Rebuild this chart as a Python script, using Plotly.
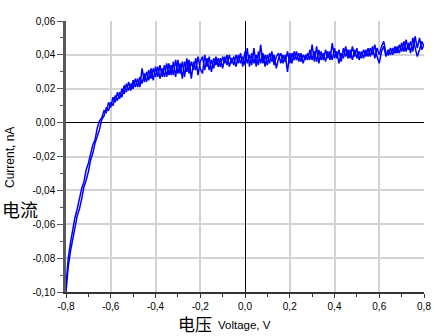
import plotly.graph_objects as go

voltage = [
    -0.80, -0.79, -0.78, -0.77, -0.76, -0.75, -0.74, -0.73, -0.72, -0.71,
    -0.70, -0.69, -0.68, -0.67, -0.66, -0.65, -0.64, -0.63, -0.62, -0.61,
    -0.60, -0.59, -0.58, -0.57, -0.56, -0.55, -0.54, -0.53, -0.52, -0.51,
    -0.50, -0.49, -0.48, -0.47, -0.46, -0.45, -0.44, -0.43, -0.42, -0.41,
    -0.40, -0.39, -0.38, -0.37, -0.36, -0.35, -0.34, -0.33, -0.32, -0.31,
    -0.30, -0.29, -0.28, -0.27, -0.26, -0.25, -0.24, -0.23, -0.22, -0.21,
    -0.20, -0.19, -0.18, -0.17, -0.16, -0.15, -0.14, -0.13, -0.12, -0.11,
    -0.10, -0.09, -0.08, -0.07, -0.06, -0.05, -0.04, -0.03, -0.02, -0.01,
    0.00, 0.01, 0.02, 0.03, 0.04, 0.05, 0.06, 0.07, 0.08, 0.09,
    0.10, 0.11, 0.12, 0.13, 0.14, 0.15, 0.16, 0.17, 0.18, 0.19,
    0.20, 0.21, 0.22, 0.23, 0.24, 0.25, 0.26, 0.27, 0.28, 0.29,
    0.30, 0.31, 0.32, 0.33, 0.34, 0.35, 0.36, 0.37, 0.38, 0.39,
    0.40, 0.41, 0.42, 0.43, 0.44, 0.45, 0.46, 0.47, 0.48, 0.49,
    0.50, 0.51, 0.52, 0.53, 0.54, 0.55, 0.56, 0.57, 0.58, 0.59,
    0.60, 0.61, 0.62, 0.63, 0.64, 0.65, 0.66, 0.67, 0.68, 0.69,
    0.70, 0.71, 0.72, 0.73, 0.74, 0.75, 0.76, 0.77, 0.78, 0.79,
    0.80,
]

current_forward = [
    -0.100, -0.085, -0.076, -0.068, -0.062, -0.055, -0.051, -0.045, -0.038, -0.034,
    -0.029, -0.022, -0.018, -0.012, -0.008, -0.004, 0.002, 0.004, 0.009, 0.007,
    0.012, 0.010, 0.016, 0.013, 0.018, 0.015, 0.022, 0.018, 0.024, 0.019,
    0.025, 0.021, 0.026, 0.021, 0.032, 0.024, 0.030, 0.025, 0.032, 0.025,
    0.033, 0.027, 0.034, 0.027, 0.034, 0.027, 0.035, 0.028, 0.036, 0.027,
    0.037, 0.029, 0.036, 0.027, 0.038, 0.029, 0.036, 0.031, 0.038, 0.028,
    0.036, 0.039, 0.031, 0.038, 0.031, 0.037, 0.032, 0.039, 0.033, 0.038,
    0.032, 0.039, 0.034, 0.040, 0.035, 0.039, 0.033, 0.040, 0.035, 0.039,
    0.034, 0.044, 0.033, 0.041, 0.035, 0.040, 0.034, 0.046, 0.035, 0.040,
    0.034, 0.041, 0.036, 0.040, 0.032, 0.038, 0.041, 0.035, 0.040, 0.030,
    0.041, 0.035, 0.042, 0.037, 0.041, 0.036, 0.040, 0.037, 0.041, 0.037,
    0.046, 0.036, 0.045, 0.035, 0.042, 0.037, 0.043, 0.038, 0.042, 0.037,
    0.044, 0.038, 0.043, 0.036, 0.044, 0.039, 0.043, 0.038, 0.045, 0.039,
    0.044, 0.037, 0.042, 0.038, 0.043, 0.039, 0.044, 0.040, 0.046, 0.039,
    0.035, 0.042, 0.045, 0.039, 0.043, 0.040, 0.044, 0.041, 0.045, 0.041,
    0.047, 0.042, 0.049, 0.043, 0.048, 0.042, 0.051, 0.044, 0.050, 0.043,
    0.046,
]

current_reverse = [
    -0.096, -0.080, -0.071, -0.063, -0.056, -0.051, -0.044, -0.039, -0.035, -0.028,
    -0.024, -0.019, -0.013, -0.010, -0.003, 0.001, 0.003, 0.007, 0.006, 0.012,
    0.009, 0.015, 0.012, 0.018, 0.014, 0.020, 0.017, 0.023, 0.019, 0.023,
    0.020, 0.026, 0.021, 0.027, 0.023, 0.029, 0.024, 0.031, 0.026, 0.032,
    0.027, 0.033, 0.026, 0.032, 0.027, 0.035, 0.028, 0.034, 0.028, 0.037,
    0.029, 0.035, 0.026, 0.036, 0.030, 0.037, 0.026, 0.036, 0.031, 0.039,
    0.032, 0.029, 0.040, 0.033, 0.039, 0.030, 0.038, 0.034, 0.038, 0.033,
    0.039, 0.035, 0.040, 0.033, 0.038, 0.034, 0.040, 0.035, 0.041, 0.033,
    0.042, 0.035, 0.040, 0.034, 0.044, 0.033, 0.042, 0.035, 0.041, 0.033,
    0.040, 0.035, 0.042, 0.034, 0.039, 0.041, 0.035, 0.040, 0.036, 0.042,
    0.035, 0.041, 0.037, 0.042, 0.036, 0.041, 0.035, 0.040, 0.037, 0.043,
    0.037, 0.042, 0.036, 0.043, 0.037, 0.041, 0.036, 0.042, 0.037, 0.047,
    0.038, 0.042, 0.035, 0.041, 0.038, 0.045, 0.038, 0.043, 0.037, 0.043,
    0.038, 0.042, 0.038, 0.043, 0.039, 0.044, 0.039, 0.045, 0.038, 0.044,
    0.040, 0.045, 0.048, 0.041, 0.040, 0.044, 0.040, 0.045, 0.041, 0.046,
    0.042, 0.048, 0.042, 0.047, 0.041, 0.050, 0.044, 0.039, 0.043, 0.048,
    0.045,
]

x_tick_values = [-0.8, -0.6, -0.4, -0.2, 0.0, 0.2, 0.4, 0.6, 0.8]
x_tick_labels = ["-0,8", "-0,6", "-0,4", "-0,2", "0,0", "0,2", "0,4", "0,6", "0,8"]
y_tick_values = [-0.10, -0.08, -0.06, -0.04, -0.02, 0.00, 0.02, 0.04, 0.06]
y_tick_labels = ["-0,10", "-0,08", "-0,06", "-0,04", "-0,02", "0,00", "0,02", "0,04", "0,06"]

x_title_cn = "电压"
x_title_en = "Voltage, V"
y_title_cn = "电流"
y_title_en = "Current, nA"

BLUE = "#0000FF"
GRID = "#D3D3D3"
LATIN = "Liberation Sans, Arial, sans-serif"
CJK = "Noto Sans CJK SC"
TICKFONT = dict(family=LATIN, size=10, color="#000000")

fig = go.Figure()
fig.add_trace(go.Scatter(x=voltage, y=current_forward, mode="lines",
                         line=dict(color=BLUE, width=1.5), showlegend=False))
fig.add_trace(go.Scatter(x=voltage, y=current_reverse, mode="lines",
                         line=dict(color=BLUE, width=1.5), showlegend=False))

fig.update_layout(
    width=435, height=336,
    margin=dict(l=66, r=11, t=21, b=44, autoexpand=False),
    paper_bgcolor="white", plot_bgcolor="white",
    showlegend=False,
)

fig.update_xaxes(
    range=[-0.8, 0.8],
    tickvals=x_tick_values, ticktext=x_tick_labels,
    tickfont=TICKFONT,
    showgrid=True, gridcolor=GRID, gridwidth=1.5,
    zeroline=True, zerolinecolor="#000000", zerolinewidth=1.2,
    showline=True, linecolor="#333333", linewidth=1.5,
    ticks="outside", ticklen=4, tickcolor="#333333", tickwidth=1,
    minor=dict(dtick=0.1, tick0=0, ticks="outside", ticklen=3, tickcolor="#333333", showgrid=False),
)
fig.update_yaxes(
    range=[-0.10, 0.06],
    tickvals=y_tick_values, ticktext=y_tick_labels,
    tickfont=TICKFONT,
    showgrid=True, gridcolor=GRID, gridwidth=1.5,
    zeroline=True, zerolinecolor="#000000", zerolinewidth=1.2,
    showline=True, linecolor="#5A5A5A", linewidth=2.5,
    ticks="outside", ticklen=6, tickcolor="#5A5A5A", tickwidth=1.2,
    minor=dict(dtick=0.01, tick0=0, ticks="outside", ticklen=3, tickcolor="#5A5A5A", showgrid=False),
)

fig.add_annotation(xref="paper", yref="paper", x=-0.156, y=0.495, text=y_title_en,
                   textangle=-90, showarrow=False, xanchor="center", yanchor="middle",
                   font=dict(family=LATIN, size=12, color="#000000"))
fig.add_annotation(xref="paper", yref="paper", x=-0.183, y=0.308, text=y_title_cn,
                   showarrow=False, xanchor="left", yanchor="middle",
                   font=dict(family=CJK, size=18, color="#000000"))
fig.add_annotation(xref="paper", yref="paper", x=0.414, y=-0.1163, text=x_title_cn,
                   xanchor="right", yanchor="middle", showarrow=False,
                   font=dict(family=CJK, size=17, color="#000000"))
fig.add_annotation(xref="paper", yref="paper", x=0.42, y=-0.12, text=x_title_en,
                   xanchor="left", yanchor="middle", showarrow=False,
                   font=dict(family=LATIN, size=11.5, color="#000000"))

fig.write_html("out.html", config={"displayModeBar": False},
               post_script="document.body.style.margin='0';")
